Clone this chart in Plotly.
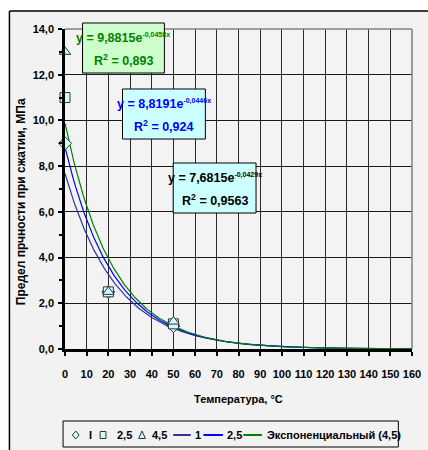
import numpy as np
import plotly.graph_objects as go

# ---------------- data ----------------
temps = [0, 20, 50]
series_I = [9.0, 2.5, 1.0]
series_25 = [11.0, 2.5, 1.1]
series_45 = [13.0, 2.5, 1.2]

# exponential trendlines as displayed on the chart: y = a * exp(b x)
trend_names = ["1", "2,5", "Экспоненциальный (4,5)"]
trend_a = [7.6815, 8.8191, 9.8815]
trend_b = [-0.0429, -0.0446, -0.0458]
trend_r2 = ["0,9563", "0,924", "0,893"]
trend_colors = ["#333399", "#0000ff", "#008000"]

x_ticks = list(range(0, 161, 10))
y_ticks = list(range(0, 15, 2))

FONT = "Liberation Sans, Arial, sans-serif"

# ---------------- layout geometry ----------------
W, H = 428, 450
L, R, T, B = 65, 7, 29, 101
PW, PH = W - L - R, H - T - B


def px(x):
    return (x - L) / PW


def py(y):
    return (H - B - y) / PH


fig = go.Figure()

# trendlines
xs = np.linspace(0, 160, 321)
for name, a, b, c in zip(trend_names, trend_a, trend_b, trend_colors):
    fig.add_trace(go.Scatter(x=xs, y=a * np.exp(b * xs), mode="lines",
                             line=dict(color=c, width=1.2), name=name,
                             showlegend=False, hoverinfo="skip"))

marker_style = dict(size=10, color="#ccffff", line=dict(color="#333333", width=1))
for name, vals, sym in [("I", series_I, "diamond"),
                        ("2,5", series_25, "square"),
                        ("4,5", series_45, "triangle-up")]:
    fig.add_trace(go.Scatter(x=temps, y=vals, mode="markers", name=name,
                             marker=dict(symbol=sym, **marker_style),
                             cliponaxis=False, showlegend=False))

shapes = []
# white area outside the outer frame (top and left strips)
shapes.append(dict(type="rect", xref="paper", yref="paper",
                   x0=px(-5), y0=py(460), x1=px(8), y1=py(-5),
                   fillcolor="#ffffff", line=dict(width=0), layer="below"))
shapes.append(dict(type="rect", xref="paper", yref="paper",
                   x0=px(-5), y0=py(11), x1=px(440), y1=py(-5),
                   fillcolor="#ffffff", line=dict(width=0), layer="below"))
# outer frame lines
shapes.append(dict(type="line", xref="paper", yref="paper",
                   x0=px(8), x1=px(440), y0=py(11), y1=py(11),
                   line=dict(color="#000000", width=1.5)))
shapes.append(dict(type="line", xref="paper", yref="paper",
                   x0=px(8), x1=px(8), y0=py(11), y1=py(460),
                   line=dict(color="#000000", width=1.5)))
# top and right border of plot area (gray)
shapes.append(dict(type="line", xref="paper", yref="paper", x0=0, x1=1, y0=1, y1=1,
                   line=dict(color="#808080", width=1.5)))
shapes.append(dict(type="line", xref="paper", yref="paper", x0=1, x1=1, y0=0, y1=1,
                   line=dict(color="#808080", width=1.5)))

annotations = []

# equation boxes
boxes = [  # (index into trend lists, x0, y0, x1, y1, fill, text colour)
    (2, 83, 23, 167, 73, "#ccffcc", "#008000"),
    (1, 124, 89, 209, 139, "#ccffff", "#0000ff"),
    (0, 176, 163, 261, 213, "#ccffff", "#000000"),
]
for i, x0, y0, x1, y1, fill, tc in boxes:
    shapes.append(dict(type="rect", xref="paper", yref="paper",
                       x0=px(x0), y0=py(y1), x1=px(x1), y1=py(y0),
                       fillcolor=fill, line=dict(color="#000000", width=1)))
    a_txt = f"{trend_a[i]:.4f}".replace(".", ",")
    b_txt = f"{trend_b[i]:.4f}".replace(".", ",")
    cx = (x0 + x1) / 2
    annotations.append(dict(xref="paper", yref="paper", x=px(cx), y=py(y0 + 15),
                            text=(f"y = {a_txt}e<sup><span style=\"font-size:7px\">"
                                  f"{b_txt}x</span></sup>"),
                            showarrow=False, xanchor="center", yanchor="middle",
                            font=dict(family=FONT, size=12.5, color=tc, weight="bold")))
    annotations.append(dict(xref="paper", yref="paper", x=px(cx), y=py(y0 + 37),
                            text=f"R<sup>2</sup> = {trend_r2[i]}", showarrow=False,
                            xanchor="center", yanchor="middle",
                            font=dict(family=FONT, size=12.5, color=tc, weight="bold")))

# axis titles
annotations.append(dict(xref="paper", yref="paper", x=px(20), y=py(202),
                        text="Предел прчности при сжатии, МПа", textangle=-90,
                        showarrow=False, xanchor="center", yanchor="middle",
                        font=dict(family=FONT, size=12, color="#000", weight="bold")))
annotations.append(dict(xref="paper", yref="paper", x=px(243), y=py(399),
                        text="Температура, °С", showarrow=False,
                        xanchor="center", yanchor="middle",
                        font=dict(family=FONT, size=11, color="#000", weight="bold")))

# ---------------- manual legend ----------------
LY = 435
shapes.append(dict(type="rect", xref="paper", yref="paper",
                   x0=px(63), y0=py(447), x1=px(407), y1=py(421),
                   fillcolor="rgba(0,0,0,0)", line=dict(color="#000000", width=1)))


def path(points):
    s = "M " + " L ".join(f"{px(x):.5f},{py(y):.5f}" for x, y in points) + " Z"
    return s


leg_marker = dict(fillcolor="#ccffff", line=dict(color="#333333", width=1))
shapes.append(dict(type="path", xref="paper", yref="paper",
                   path=path([(76, LY - 4), (79.5, LY), (76, LY + 4), (72.5, LY)]), **leg_marker))
shapes.append(dict(type="path", xref="paper", yref="paper",
                   path=path([(101, LY - 3.5), (107, LY - 3.5), (107, LY + 3.5), (101, LY + 3.5)]), **leg_marker))
shapes.append(dict(type="path", xref="paper", yref="paper",
                   path=path([(144, LY - 4), (147.5, LY + 3.5), (140.5, LY + 3.5)]), **leg_marker))

leg_lines = [(176, 194, trend_colors[0]), (207, 227, trend_colors[1]), (248, 267, trend_colors[2])]
for x0, x1, c in leg_lines:
    shapes.append(dict(type="line", xref="paper", yref="paper",
                       x0=px(x0), x1=px(x1), y0=py(LY), y1=py(LY),
                       line=dict(color=c, width=2)))

leg_texts = [(88, "I"), (116, "2,5"), (152, "4,5"), (196, trend_names[0]),
             (229, trend_names[1]), (270, trend_names[2])]
for x, t in leg_texts:
    annotations.append(dict(xref="paper", yref="paper", x=px(x), y=py(LY),
                            text=t, showarrow=False, xanchor="left", yanchor="middle",
                            font=dict(family=FONT, size=11, color="#000", weight="bold")))

fig.update_layout(
    width=W, height=H,
    margin=dict(l=L, r=R, t=T, b=B, pad=0),
    paper_bgcolor="#f2f2f2",
    plot_bgcolor="#f3f3f3",
    separators=", ",
    showlegend=False,
    shapes=shapes,
    annotations=annotations,
    font=dict(family=FONT, size=11, color="#000"),
)

fig.update_xaxes(range=[0, 160], tickvals=x_ticks, ticktext=[str(v) for v in x_ticks],
                 showgrid=True, gridcolor="#2a2a2a", gridwidth=1,
                 showline=True, linecolor="#000", linewidth=3,
                 ticks="outside", ticklen=4, tickwidth=2, tickcolor="#000",
                 ticklabelstandoff=9, ticklabeloverflow="allow", zeroline=False,
                 tickfont=dict(family=FONT, size=11, color="#000", weight="bold"))
fig.update_yaxes(range=[0, 14], tickvals=y_ticks, tickformat=".1f",
                 showgrid=True, gridcolor="#1a1a1a", gridwidth=1,
                 showline=True, linecolor="#000", linewidth=2.5,
                 ticks="outside", ticklen=4, tickwidth=2, tickcolor="#000",
                 minor=dict(dtick=1, ticks="outside", ticklen=3, tickwidth=2,
                            tickcolor="#000", showgrid=False),
                 ticklabelstandoff=2, zeroline=False,
                 tickfont=dict(family=FONT, size=11, color="#000", weight="bold"))

fig.write_html("out.html")
